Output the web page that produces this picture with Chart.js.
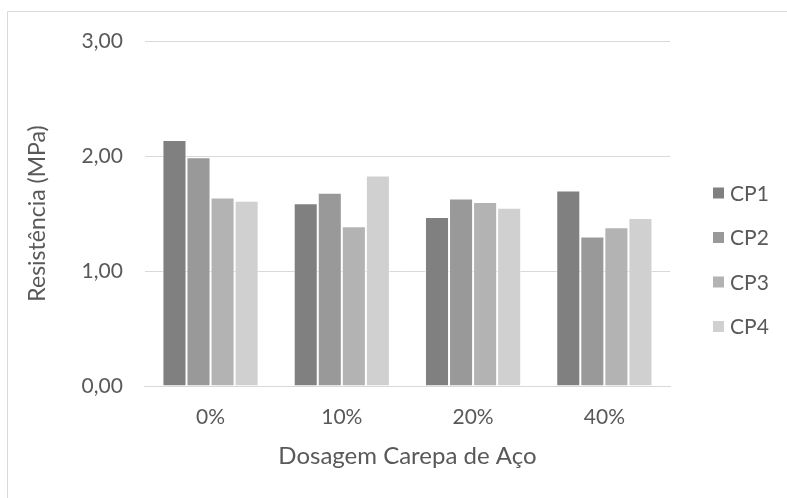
<!DOCTYPE html>
<html>
<head>
<meta charset="utf-8">
<script src="https://cdn.jsdelivr.net/npm/chart.js@4/dist/chart.umd.min.js"></script>
<style>
  html, body { margin: 0; padding: 0; background: #ffffff; }
  #wrap { position: relative; width: 787px; height: 498px; }
</style>
</head>
<body>
<div id="wrap"><canvas id="chart" width="787" height="498"></canvas></div>
<script>
// Categories and series (compressive strength, MPa)
const categories = ['0%', '10%', '20%', '40%'];
const seriesNames = ['CP1', 'CP2', 'CP3', 'CP4'];
const cp1 = [2.14, 1.59, 1.47, 1.70];
const cp2 = [1.99, 1.68, 1.63, 1.30];
const cp3 = [1.64, 1.39, 1.60, 1.38];
const cp4 = [1.61, 1.83, 1.55, 1.46];
const yTicks = [0, 1, 2, 3];

const seriesValues = [cp1, cp2, cp3, cp4];
const seriesColors = ['#808080', '#999999', '#b3b3b3', '#d0d0d0'];
const FONT = "Lato, 'Open Sans', sans-serif";
const TEXT = '#595959';

// Outer frame of the chart object (top and left edges)
const framePlugin = {
  id: 'frame',
  beforeDraw(chart) {
    const ctx = chart.ctx;
    ctx.save();
    ctx.fillStyle = '#ffffff';
    ctx.fillRect(0, 0, chart.width, chart.height);
    ctx.strokeStyle = '#d9d9d9';
    ctx.lineWidth = 1;
    ctx.beginPath();
    ctx.moveTo(7.5, chart.height);
    ctx.lineTo(7.5, 11.5);
    ctx.lineTo(chart.width, 11.5);
    ctx.stroke();
    ctx.restore();
  }
};

// Vertical legend to the right of the plot
const legendPlugin = {
  id: 'sideLegend',
  afterDraw(chart, args, opts) {
    const ctx = chart.ctx;
    ctx.save();
    ctx.font = opts.fontSize + 'px ' + FONT;
    ctx.textBaseline = 'middle';
    chart.data.datasets.forEach((ds, i) => {
      const y = opts.top + i * opts.step;
      ctx.fillStyle = ds.backgroundColor;
      ctx.fillRect(opts.x, y - opts.box / 2, opts.box, opts.box);
      ctx.fillStyle = TEXT;
      ctx.fillText(ds.label, opts.x + opts.box + 6, y + 1);
    });
    ctx.restore();
  }
};

new Chart(document.getElementById('chart'), {
  type: 'bar',
  data: {
    labels: categories,
    datasets: seriesNames.map((name, i) => ({
      label: name,
      data: seriesValues[i],
      backgroundColor: seriesColors[i],
      borderColor: 'rgba(255,255,255,0.6)',
      borderWidth: 1,
      categoryPercentage: 0.733,
      barPercentage: 1.0
    }))
  },
  options: {
    responsive: false,
    animation: false,
    devicePixelRatio: 1,
    layout: { padding: { left: 24, right: 117, top: 41, bottom: 27 } },
    plugins: {
      legend: { display: false },
      tooltip: { enabled: false },
      sideLegend: { x: 713, top: 193, step: 44.5, box: 11, fontSize: 21 }
    },
    scales: {
      x: {
        grid: { display: false, drawTicks: false },
        border: { color: '#d9d9d9', width: 1 },
        ticks: { color: TEXT, font: { family: FONT, size: 21 }, padding: 18.5 },
        title: {
          display: true,
          text: 'Dosagem Carepa de Aço',
          color: TEXT,
          font: { family: FONT, size: 24 },
          padding: { top: -6, bottom: 0 }
        }
      },
      y: {
        min: 0,
        max: 3,
        afterBuildTicks(axis) { axis.ticks = yTicks.map(v => ({ value: v })); },
        grid: { color: '#d9d9d9', lineWidth: 1, drawTicks: false },
        border: { display: false },
        ticks: {
          color: TEXT,
          font: { family: FONT, size: 21 },
          padding: 22,
          callback: v => Number(v).toFixed(2).replace('.', ',')
        },
        title: {
          display: true,
          text: 'Resistência (MPa)',
          color: TEXT,
          font: { family: FONT, size: 23 },
          padding: { top: 0, bottom: 8 }
        }
      }
    }
  },
  plugins: [framePlugin, legendPlugin]
});
</script>
</body>
</html>
